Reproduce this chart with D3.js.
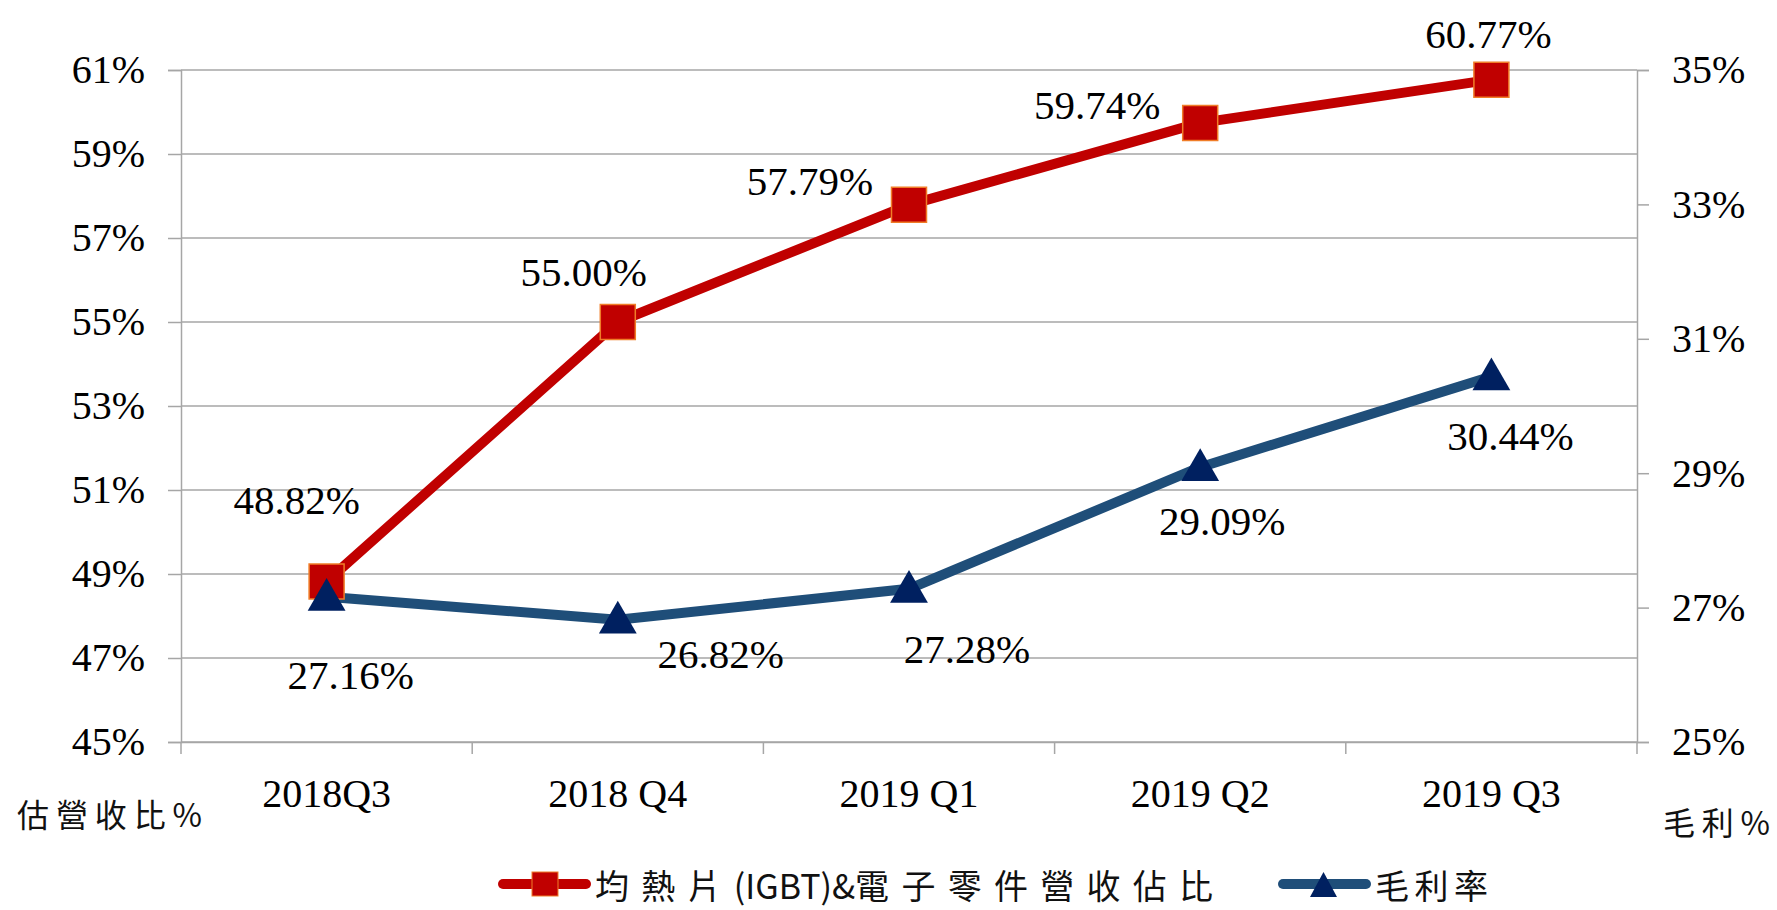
<!DOCTYPE html>
<html>
<head>
<meta charset="utf-8">
<script src="https://cdn.jsdelivr.net/npm/d3@7"></script>
<style>
  body { margin: 0; background: #fff; }
  svg { display: block; }
  .num { font-family: 'Liberation Serif', 'Times New Roman', serif; fill: #000; }
  .cjk { font-family: 'Noto Sans CJK TC', 'Noto Sans CJK SC', sans-serif; fill: #111; }
</style>
</head>
<body>
<div id="chart"></div>
<script>
const categories = ['2018Q3', '2018 Q4', '2019 Q1', '2019 Q2', '2019 Q3']
const shareValues = [48.82, 55.00, 57.79, 59.74, 60.77]
const marginValues = [27.16, 26.82, 27.28, 29.09, 30.44]
const leftTicks = [45, 47, 49, 51, 53, 55, 57, 59, 61]
const rightTicks = [25, 27, 29, 31, 33, 35]
const shareName = '均熱片(IGBT)&電子零件營收佔比'
const marginName = '毛利率'

// label offsets from the point (centre of text), layout only
const shareLabelOffset = [[-30, -82], [-34, -50], [-99, -24], [-103, -18], [-3, -46]]
const marginLabelOffset = [[24, 78], [103, 34], [58, 60], [22, 54], [19, 60]]

const RED = '#c00000'
const BLUE = '#1f4e79'
const NAVY = '#002060'
const GRID = '#a6a6a6'

const dimensions = {
  width: 1777,
  height: 910,
  margin: { top: 70, right: 140, bottom: 168, left: 181 }
}
const innerW = dimensions.width - dimensions.margin.left - dimensions.margin.right
const innerH = dimensions.height - dimensions.margin.top - dimensions.margin.bottom

const wrapper = d3.select('#chart').append('svg')
  .attr('width', dimensions.width)
  .attr('height', dimensions.height)

const bounds = wrapper.append('g')
  .attr('transform', `translate(${dimensions.margin.left}, ${dimensions.margin.top})`)

const xScale = d3.scaleBand().domain(categories).range([0, innerW]).padding(0)
const xMid = d => xScale(d) + xScale.bandwidth() / 2
const yLeft = d3.scaleLinear().domain([45, 61]).range([innerH, 0])
const yRight = d3.scaleLinear().domain([25, 35]).range([innerH, 0])

// gridlines
bounds.append('g')
  .selectAll('line')
  .data(leftTicks)
  .join('line')
  .attr('x1', 0).attr('x2', innerW)
  .attr('y1', d => yLeft(d)).attr('y2', d => yLeft(d))
  .attr('stroke', GRID).attr('stroke-width', 1.5)

// left axis
const leftAxis = bounds.append('g')
  .call(d3.axisLeft(yLeft).tickValues(leftTicks).tickSize(13).tickPadding(23).tickFormat(d => d + '%'))
leftAxis.selectAll('.tick text').attr('class', 'num').style('font-size', '40px')

// right axis
const rightAxis = bounds.append('g')
  .attr('transform', `translate(${innerW}, 0)`)
  .call(d3.axisRight(yRight).tickValues(rightTicks).tickSize(12).tickPadding(23).tickFormat(d => d + '%'))
rightAxis.selectAll('.tick text').attr('class', 'num').style('font-size', '40px')

// bottom axis: labels at centres, ticks at band boundaries
const bottomAxis = bounds.append('g')
  .attr('transform', `translate(0, ${innerH})`)
  .call(d3.axisBottom(xScale).tickSize(0).tickPadding(37))
bottomAxis.selectAll('.tick text').attr('class', 'num').style('font-size', '40px')
bottomAxis.append('g')
  .selectAll('line')
  .data(categories.map(c => xScale(c)).concat([innerW]))
  .join('line')
  .attr('x1', d => d).attr('x2', d => d)
  .attr('y1', 0).attr('y2', 12)
  .attr('stroke', GRID).attr('stroke-width', 1.5)

wrapper.selectAll('.domain, .tick line').attr('stroke', GRID).attr('stroke-width', 1.5)

// lines
const shareLine = d3.line().x((d, i) => xMid(categories[i])).y(d => yLeft(d))
const marginLine = d3.line().x((d, i) => xMid(categories[i])).y(d => yRight(d))

bounds.append('path')
  .attr('d', shareLine(shareValues))
  .attr('fill', 'none').attr('stroke', RED).attr('stroke-width', 10)
  .attr('stroke-linejoin', 'round')

bounds.append('path')
  .attr('d', marginLine(marginValues))
  .attr('fill', 'none').attr('stroke', BLUE).attr('stroke-width', 10)
  .attr('stroke-linejoin', 'round')

const square = d3.symbol().type(d3.symbolSquare).size(35 * 35)
const triangle = d3.symbol().type(d3.symbolTriangle).size(620)

bounds.append('g')
  .selectAll('path')
  .data(shareValues)
  .join('path')
  .attr('transform', (d, i) => `translate(${xMid(categories[i])}, ${yLeft(d)})`)
  .attr('d', square)
  .attr('fill', RED).attr('stroke', '#f07d28').attr('stroke-width', 1.5)

bounds.append('g')
  .selectAll('path')
  .data(marginValues)
  .join('path')
  .attr('transform', (d, i) => `translate(${xMid(categories[i])}, ${yRight(d) + 3})`)
  .attr('d', triangle)
  .attr('fill', NAVY)

// data labels
bounds.append('g')
  .selectAll('text')
  .data(shareValues)
  .join('text')
  .attr('class', 'num')
  .attr('x', (d, i) => xMid(categories[i]) + shareLabelOffset[i][0])
  .attr('y', (d, i) => yLeft(d) + shareLabelOffset[i][1])
  .attr('text-anchor', 'middle').attr('dominant-baseline', 'central')
  .style('font-size', '41px')
  .text(d => d.toFixed(2) + '%')

bounds.append('g')
  .selectAll('text')
  .data(marginValues)
  .join('text')
  .attr('class', 'num')
  .attr('x', (d, i) => xMid(categories[i]) + marginLabelOffset[i][0])
  .attr('y', (d, i) => yRight(d) + marginLabelOffset[i][1])
  .attr('text-anchor', 'middle').attr('dominant-baseline', 'central')
  .style('font-size', '41px')
  .text(d => d.toFixed(2) + '%')

// spreads the CJK characters of a text with letter-spacing until it takes a given width
function spacedText (parent, str, x, y, size, width) {
  const runs = str.match(/[\u3400-\u9fff]+|[^\u3400-\u9fff]+/g)
  const t = parent.append('text')
    .attr('class', 'cjk')
    .attr('x', x).attr('y', y)
    .attr('dominant-baseline', 'central')
    .style('font-size', size + 'px')
  const spans = runs.map(r => ({ r, cjk: /[\u3400-\u9fff]/.test(r), el: t.append('tspan').text(r) }))
  const len = t.node().getComputedTextLength()
  const cjkCount = spans.filter(s => s.cjk).reduce((n, s) => n + s.r.length, 0)
  const last = str[str.length - 1]
  const gaps = /[\u3400-\u9fff]/.test(last) ? cjkCount - 1 : cjkCount
  if (len < width && gaps > 0) {
    const ls = (width - len) / gaps
    spans.filter(s => s.cjk).forEach(s => s.el.style('letter-spacing', ls + 'px'))
  }
  return t
}

// axis titles
spacedText(wrapper, '估營收比%', 17, 813, 32, 185)
spacedText(wrapper, '毛利%', 1663, 821, 32, 107)

// legend
const legend = wrapper.append('g').attr('transform', 'translate(0, 884)')

legend.append('line')
  .attr('x1', 503).attr('x2', 586).attr('y1', 0).attr('y2', 0)
  .attr('stroke', RED).attr('stroke-width', 10).attr('stroke-linecap', 'round')
legend.append('rect')
  .attr('x', 532).attr('y', -12).attr('width', 26).attr('height', 24)
  .attr('fill', RED).attr('stroke', '#f07d28').attr('stroke-width', 1)
spacedText(legend, shareName, 595, 0, 34, 618)

legend.append('line')
  .attr('x1', 1283).attr('x2', 1366).attr('y1', 0).attr('y2', 0)
  .attr('stroke', BLUE).attr('stroke-width', 10).attr('stroke-linecap', 'round')
legend.append('path')
  .attr('d', 'M1323.5,-12 L1337,13 L1310,13 Z')
  .attr('fill', NAVY)
spacedText(legend, marginName, 1375, 0, 34, 113)
</script>
</body>
</html>
